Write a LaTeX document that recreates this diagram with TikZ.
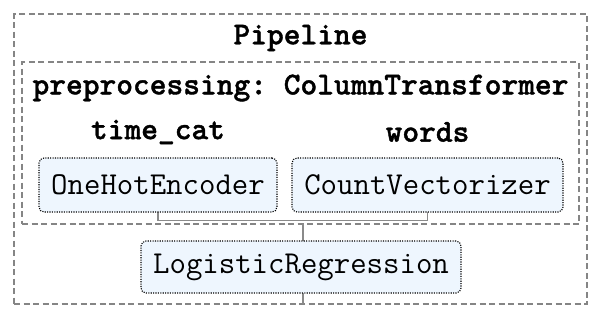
\documentclass[tikz,border=0pt]{standalone}
\usepackage{fontspec}
\newfontfamily\headmono{lmmonolt10-bold}[Extension=.otf, FakeBold=1.2]
\definecolor{boxblue}{HTML}{EEF6FE}
\definecolor{framegray}{HTML}{858585}
\definecolor{linkgray}{HTML}{8A8A8A}
\begin{document}
\begin{tikzpicture}[x=1pt,y=-1pt,
  container/.style={draw=framegray, line width=1.4pt, dash pattern=on 6pt off 3.5pt,
    rectangle, inner sep=0pt},
  heading/.style={font=\headmono\frenchspacing\fontsize{31.9}{34}\selectfont, inner sep=0pt},
  estimator/.style={draw=black, line width=1.1pt, dash pattern=on 1.1pt off 1.3pt,
    rounded corners=5pt, fill=boxblue, inner sep=0pt,
    font=\ttfamily\fontsize{31.9}{34}\selectfont},
  link/.style={draw=linkgray, line width=1.6pt}]
\useasboundingbox (0,0) rectangle (602,322);

% nested containers
\node[container, minimum width=573pt, minimum height=290pt] (pipeline) at (300.5,159) {};
\node[container, minimum width=557pt, minimum height=162pt] (coltrans) at (300.5,143) {};

% titles
\node[heading] (pipetitle) at (300.5,38) {Pipeline};
\node[heading] (cttitle) at (300.5,88) {preprocessing: ColumnTransformer};
\node[heading] (timecat) at (158,132) {time\_cat};
\node[heading] (words) at (427.5,132) {words};

% connectors (drawn first so the boxes sit on top)
\coordinate (joinL) at (158,220.5);
\coordinate (joinR) at (427.5,220.5);
\coordinate (ctout) at (303,224);
\coordinate (outlet) at (303,304);
\coordinate (ohebottom) at (158,212);
\coordinate (cvbottom) at (427.5,212);
\coordinate (lrtop) at (303,241);
\coordinate (lrbottom) at (303,293);
\draw[link] (ohebottom) -- (joinL) -- (joinR) -- (cvbottom);
\draw[link] (ctout) -- (lrtop);
\draw[link] (lrbottom) -- (outlet);

% estimators
\node[estimator, minimum width=238pt, minimum height=54pt] (ohe) at (158,185) {OneHotEncoder};
\node[estimator, minimum width=271pt, minimum height=54pt] (cv) at (427.5,185) {CountVectorizer};
\node[estimator, minimum width=320pt, minimum height=52pt] (lr) at (301,267) {LogisticRegression};
\end{tikzpicture}
\end{document}
